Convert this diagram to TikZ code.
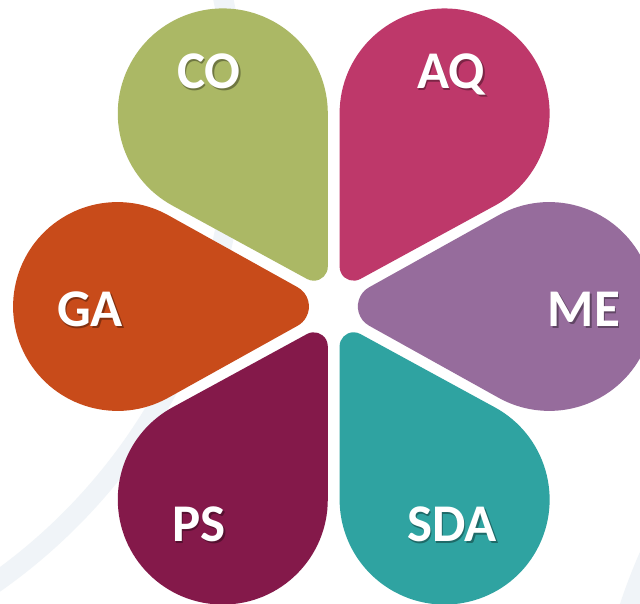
\documentclass[tikz,border=0pt]{standalone}
\usepackage{fontspec}
\setmainfont{Carlito}
\definecolor{copetal}{HTML}{ABB865}
\definecolor{aqpetal}{HTML}{BE386A}
\definecolor{mepetal}{HTML}{966C9C}
\definecolor{gapetal}{HTML}{C84B1A}
\definecolor{pspetal}{HTML}{84194A}
\definecolor{sdapetal}{HTML}{2FA3A1}
\definecolor{ringgray}{HTML}{F0F4F8}
\begin{document}
\begin{tikzpicture}[x=1pt,y=1pt,
pics/petal/.style n args={3}{code={
  \fill ({#3/sin(#1)},0) ++({270-#1}:#3) arc[start angle={270-#1},end angle={90+#1},radius=#3]
    -- ({#2+#2*sin(#1)*cos(90+#1)},{#2*sin(#1)*sin(90+#1)})
    arc[start angle={90+#1},end angle={-90-#1},radius={#2*sin(#1)}] -- cycle;}},
petaltext/.style={text=white,font=\fontsize{53}{63}\selectfont\bfseries,inner sep=0pt,anchor=base},
petalshade/.style={petaltext,text=black,opacity=0.35,xshift=1.5pt,yshift=-1.5pt},
bgring/.style={draw=ringgray,line width=20pt}]
\useasboundingbox (0,0) rectangle (640,604);
\clip (0,0) rectangle (640,604);
\fill[white] (0,0) rectangle (640,604);
% faint rings behind
\draw[bgring] (-331,485) circle[radius=567];
\draw[bgring] (1168,-181) circle[radius=567];
% petal tips
\coordinate (coTip) at (327.8,313.7);
\coordinate (aqTip) at (339.6,313.7);
\coordinate (gaTip) at (332.2,297.5);
\coordinate (meTip) at (334.6,297.5);
\coordinate (psTip) at (327.8,281.3);
\coordinate (sdaTip) at (339.6,281.3);
\pic[fill=copetal,rotate=120.7] at (coTip) {petal={30.7}{205.7}{14}};
\pic[fill=aqpetal,rotate=59.3] at (aqTip) {petal={30.7}{205.7}{14}};
\pic[fill=gapetal,rotate=180] at (gaTip) {petal={29.1}{214.7}{22}};
\pic[fill=mepetal,rotate=0] at (meTip) {petal={29.1}{214.7}{22}};
\pic[fill=pspetal,rotate=-120.7] at (psTip) {petal={30.7}{205.7}{14}};
\pic[fill=sdapetal,rotate=-59.3] at (sdaTip) {petal={30.7}{205.7}{14}};
% labels
\node[petalshade] (coShade) at (209,515) {CO};
\node[petaltext] (coText) at (209,515) {CO};
\node[petalshade] (aqShade) at (451,515) {AQ};
\node[petaltext] (aqText) at (451,515) {AQ};
\node[petalshade] (gaShade) at (90,277) {GA};
\node[petaltext] (gaText) at (90,277) {GA};
\node[petalshade] (meShade) at (584,277) {ME};
\node[petaltext] (meText) at (584,277) {ME};
\node[petalshade] (psShade) at (199,62) {PS};
\node[petaltext] (psText) at (199,62) {PS};
\node[petalshade] (sdaShade) at (452,62) {SDA};
\node[petaltext] (sdaText) at (452,62) {SDA};
\end{tikzpicture}
\end{document}
